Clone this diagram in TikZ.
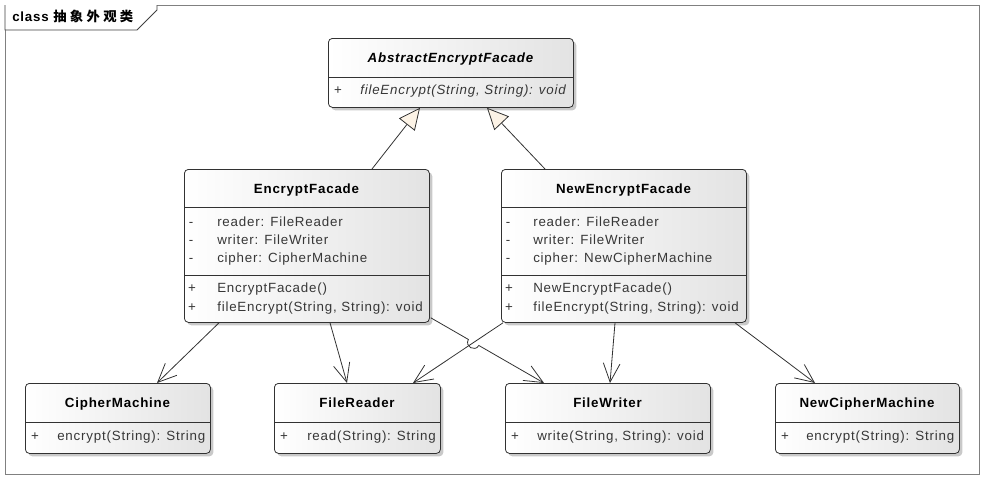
\documentclass[tikz,border=0pt]{standalone}
\usepackage{fontspec}
\setmainfont{Liberation Sans}[LetterSpace=6]
\newfontfamily\cjk{Noto Sans CJK SC}[LetterSpace=25]
\usetikzlibrary{arrows.meta,shadows,calc,intersections}
\definecolor{creamc}{RGB}{252,243,230}
\definecolor{linec}{RGB}{50,50,50}
\definecolor{textc}{RGB}{55,55,55}
\begin{document}
\begin{tikzpicture}[x=0.75pt,y=-0.75pt,
  cls/.style={draw=linec, line width=0.6pt, rounded corners=3pt, left color=white, right color=black!11,
    anchor=north west, inner sep=0pt,
    drop shadow={shadow xshift=2.2pt, shadow yshift=-2.2pt, fill=black!30, opacity=0.7}},
  ttl/.style={anchor=base, inner sep=0pt, font=\bfseries},
  vis/.style={anchor=base, inner sep=0pt, text=textc},
  mem/.style={anchor=base west, inner sep=0pt, text=textc},
  sep/.style={draw=linec, line width=0.6pt},
  assoc/.style={draw=linec, line width=0.6pt, -{Straight Barb[length=14pt,width=12.5pt]}},
  gen/.style={draw=linec, line width=0.6pt, -{Triangle[length=16pt,width=15pt,fill=creamc]}},
]
\useasboundingbox (0,0) rectangle (984,479);
% frame
\draw[black!50, line width=0.6pt] (5,5) rectangle (979,474);
\draw[black!75, line width=0.6pt, fill=white] (5,5) -- (5,30) -- (137,30) -- (157,10) -- (157,5);
\node[anchor=base west, inner sep=0pt, font=\bfseries] (frametitle) at (12,21) {class {\cjk 抽象外观类}};

% boxes
\node[cls, minimum width=183.75pt, minimum height=51.75pt] (aef) at (328,38) {};
\node[cls, minimum width=183.75pt, minimum height=114.75pt] (ef) at (184,169) {};
\node[cls, minimum width=183.75pt, minimum height=114.75pt] (nef) at (501,169) {};
\node[cls, minimum width=138.75pt, minimum height=52.5pt] (cm) at (25,383) {};
\node[cls, minimum width=124.5pt, minimum height=52.5pt] (fr) at (274,383) {};
\node[cls, minimum width=153.75pt, minimum height=52.5pt] (fw) at (505,383) {};
\node[cls, minimum width=138pt, minimum height=52.5pt] (ncm) at (775,383) {};

% dividers
\draw[sep] (328,77) -- (573,77);
\draw[sep] (184,207) -- (429,207);
\draw[sep] (184,275) -- (429,275);
\draw[sep] (501,207) -- (746,207);
\draw[sep] (501,275) -- (746,275);
\draw[sep] (25,422) -- (210,422);
\draw[sep] (274,422) -- (440,422);
\draw[sep] (505,422) -- (710,422);
\draw[sep] (775,422) -- (959,422);

% AbstractEncryptFacade
\node[ttl, font=\bfseries\itshape] (aeft) at (450.5,62.5) {AbstractEncryptFacade};
\node[vis] (aefv1) at (338,94.5) {+};
\node[mem, font=\itshape] (aefm1) at (360,94.5) {fileEncrypt(String, String): void};

% EncryptFacade
\node[ttl] (eft) at (306.5,193.5) {EncryptFacade};
\node[vis] (efv1) at (191,226) {-};
\node[mem] (efa1) at (217,226) {reader: FileReader};
\node[vis] (efv2) at (191,244.5) {-};
\node[mem] (efa2) at (217,244.5) {writer: FileWriter};
\node[vis] (efv3) at (191,262.5) {-};
\node[mem] (efa3) at (217,262.5) {cipher: CipherMachine};
\node[vis] (efv4) at (192,292.5) {+};
\node[mem] (efm1) at (217,292.5) {EncryptFacade()};
\node[vis] (efv5) at (192,311) {+};
\node[mem] (efm2) at (217,311) {fileEncrypt(String, String): void};

% NewEncryptFacade
\node[ttl] (neft) at (623.5,193.5) {NewEncryptFacade};
\node[vis] (nefv1) at (508,226) {-};
\node[mem] (nefa1) at (533,226) {reader: FileReader};
\node[vis] (nefv2) at (508,244.5) {-};
\node[mem] (nefa2) at (533,244.5) {writer: FileWriter};
\node[vis] (nefv3) at (508,262.5) {-};
\node[mem] (nefa3) at (533,262.5) {cipher: NewCipherMachine};
\node[vis] (nefv4) at (509,292.5) {+};
\node[mem] (nefm1) at (533,292.5) {NewEncryptFacade()};
\node[vis] (nefv5) at (509,311) {+};
\node[mem] (nefm2) at (533,311) {fileEncrypt(String, String): void};

% bottom classes
\node[ttl] (cmt) at (117.5,407.5) {CipherMachine};
\node[vis] (cmv) at (35,440) {+};
\node[mem] (cmm) at (57,440) {encrypt(String): String};

\node[ttl] (frt) at (357,407.5) {FileReader};
\node[vis] (frv) at (284,440) {+};
\node[mem] (frm) at (307,440) {read(String): String};

\node[ttl] (fwt) at (607.5,407.5) {FileWriter};
\node[vis] (fwv) at (515,440) {+};
\node[mem] (fwm) at (537,440) {write(String, String): void};

\node[ttl] (ncmt) at (867,407.5) {NewCipherMachine};
\node[vis] (ncmv) at (785,440) {+};
\node[mem] (ncmm) at (806,440) {encrypt(String): String};

% generalizations
\draw[gen] ($(ef.north west)+(188,0)$) -- ($(aef.south west)+(92,0)$);
\draw[gen] ($(nef.north west)+(44,0)$) -- ($(aef.south west)+(159,0)$);

% associations
\draw[assoc] ($(ef.south west)+(35,0)$) -- ($(cm.north west)+(132,0)$);
\draw[assoc] ($(ef.south west)+(146,0)$) -- ($(fr.north west)+(73,0)$);
\coordinate (s3) at ($(ef.south east)+(1,-5)$);
\coordinate (e3) at ($(fw.north west)+(39,0)$);
\coordinate (s4) at ($(nef.south west)+(2,0)$);
\coordinate (e4) at ($(fr.north west)+(139,0)$);
\path[name path=p3] (s3) -- (e3);
\path[name path=p4] (s4) -- (e4);
\path[name intersections={of=p3 and p4, by=X}];
\draw[assoc] (s4) -- (e4);
\draw[assoc] (s3) -- ($(X)!4.5pt!(s3)$) to[out=-120,in=-120,looseness=1.7] ($(X)!4.5pt!(e3)$) -- (e3);
\draw[assoc] ($(nef.south west)+(114,0)$) -- ($(fw.north west)+(105,0)$);
\draw[assoc] ($(nef.south west)+(234,0)$) -- ($(ncm.north west)+(40,0)$);
\end{tikzpicture}
\end{document}
